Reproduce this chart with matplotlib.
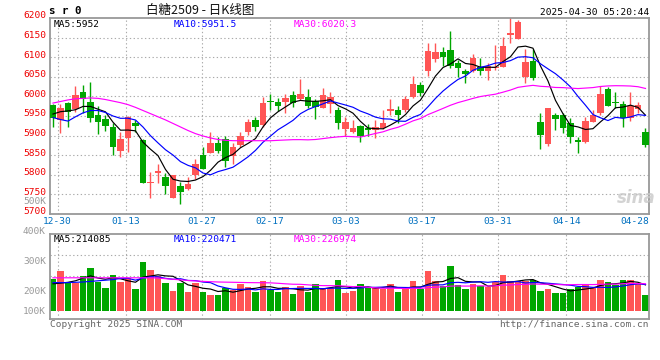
import matplotlib
matplotlib.use('Agg')
import matplotlib.pyplot as plt
import matplotlib.transforms as mtrans
import numpy as np

# ---------------- data ----------------
dates = ['12-27', '12-30', '12-31', '01-02', '01-03', '01-06', '01-07', '01-08', '01-09', '01-10',
         '01-13', '01-14', '01-15', '01-16', '01-17', '01-20', '01-21', '01-22', '01-23', '01-24',
         '01-27', '02-05', '02-06', '02-07', '02-10', '02-11', '02-12', '02-13', '02-14', '02-17',
         '02-18', '02-19', '02-20', '02-21', '02-24', '02-25', '02-26', '02-27', '02-28', '03-03',
         '03-04', '03-05', '03-06', '03-07', '03-10', '03-11', '03-12', '03-13', '03-14', '03-17',
         '03-18', '03-19', '03-20', '03-21', '03-24', '03-25', '03-26', '03-27', '03-28', '03-31',
         '04-01', '04-02', '04-03', '04-07', '04-08', '04-09', '04-10', '04-11', '04-14', '04-15',
         '04-16', '04-17', '04-18', '04-21', '04-22', '04-23', '04-24', '04-25', '04-28', '04-29']

opens = [5978, 5939, 5984, 5969, 6011, 5986, 5953, 5942, 5921, 5861,
         5895, 5931, 5889, 5780, 5805, 5794, 5742, 5771, 5764, 5799,
         5851, 5856, 5882, 5891, 5848, 5876, 5909, 5940, 5927, 5989,
         5986, 5986, 6004, 5993, 5999, 5988, 5971, 5980, 5965, 5917,
         5910, 5924, 5919, 5914, 5920, 5962, 5965, 5965, 5999, 6030,
         6065, 6095, 6114, 6118, 6086, 6065, 6066, 6076, 6066, 6072,
         6076, 6157, 6146, 6049, 6090, 5935, 5879, 5953, 5953, 5931,
         5890, 5884, 5935, 5957, 6019, 5986, 5981, 5944, 5968, 5910]
highs = [5980, 5980, 5985, 6027, 6029, 6037, 5976, 5953, 5931, 5910,
         5950, 5940, 5891, 5808, 5828, 5804, 5800, 5782, 5794, 5840,
         5870, 5910, 5896, 5899, 5882, 5910, 5942, 5948, 5999, 6006,
         5997, 6006, 6015, 6044, 6019, 5993, 6021, 6010, 5974, 5947,
         5940, 5927, 5930, 5940, 5965, 5993, 5976, 6002, 6053, 6036,
         6135, 6137, 6127, 6167, 6093, 6069, 6108, 6099, 6084, 6131,
         6152, 6215, 6195, 6120, 6120, 5957, 5970, 5957, 5958, 5944,
         5897, 5948, 5965, 6027, 6023, 6012, 5987, 6012, 5985, 5920]
lows = [5923, 5907, 5923, 5961, 5958, 5935, 5904, 5913, 5851, 5846,
        5859, 5910, 5780, 5742, 5780, 5751, 5742, 5725, 5760, 5789,
        5815, 5855, 5856, 5821, 5828, 5870, 5901, 5912, 5923, 5965,
        5963, 5958, 5974, 5991, 5971, 5942, 5971, 5958, 5918, 5899,
        5906, 5884, 5899, 5895, 5918, 5953, 5933, 5960, 5995, 6000,
        6052, 6089, 6078, 6072, 6050, 6033, 6062, 6055, 6042, 6068,
        6076, 6135, 6146, 6033, 6042, 5866, 5874, 5914, 5907, 5880,
        5856, 5880, 5935, 5952, 5976, 5970, 5921, 5938, 5958, 5872]
closes = [5946, 5970, 5959, 6004, 5993, 5946, 5935, 5925, 5872, 5891,
          5948, 5925, 5780, 5782, 5810, 5771, 5800, 5757, 5777, 5828,
          5815, 5880, 5861, 5835, 5870, 5899, 5935, 5923, 5984, 5986,
          5976, 5997, 5984, 6006, 5976, 5974, 6004, 5998, 5931, 5934,
          5919, 5899, 5914, 5922, 5933, 5967, 5953, 5993, 6032, 6008,
          6115, 6112, 6101, 6078, 6073, 6056, 6099, 6066, 6078, 6072,
          6129, 6161, 6190, 6089, 6046, 5902, 5970, 5942, 5919, 5896,
          5884, 5937, 5952, 6006, 5976, 5984, 5946, 5976, 5978, 5876]
volumes = [239000, 266700, 230000, 224700, 249000, 276700, 230000, 210000, 252000, 230000,
           243000, 205700, 296700, 269000, 250000, 225700, 199000, 226700, 195700, 224700,
           194700, 185700, 185700, 208000, 201000, 221000, 213300, 196700, 232300, 202300,
           194700, 213300, 189000, 215700, 196700, 222300, 205700, 210000, 236000, 193300,
           199000, 222300, 213300, 213300, 205700, 222300, 195700, 205700, 232300, 205700,
           266700, 232300, 215700, 283300, 219000, 205700, 222300, 215700, 213300, 230000,
           252300, 232300, 232300, 232300, 236000, 199000, 205700, 193300, 193300, 205700,
           213300, 222300, 210000, 235700, 229000, 219000, 235700, 235700, 221000, 185700]

# moving-average values before enough history exists
ma5_head = [5955, 5961, 5963, 5966]
ma10_head = [5946, 5941, 5937, 5948, 5958, 5964, 5964, 5959, 5950]
ma30_head = [5983, 5987, 5991, 5994, 5995, 5996, 5995, 5992, 5988, 5984,
             5979, 5972, 5964, 5956, 5948, 5940, 5931, 5922, 5913, 5905,
             5899, 5894, 5890, 5888, 5887, 5887, 5887, 5887, 5887]
vma5_head = [223000, 225000, 228000, 233000]
vma10_head = [227000, 227000, 227000, 228000, 229000, 231000, 233000, 235000, 237000]
vma30_head = [243000] * 14 + [242000, 240000, 238000, 236000, 234000, 232500, 231000,
                              230000, 229000, 228500, 228000, 227500, 227000, 226700, 226500]

axis_dates = ['12-30', '01-13', '01-27', '02-17', '03-03', '03-17', '03-31', '04-14', '04-28']
price_ticks = [6200, 6150, 6100, 6050, 6000, 5950, 5900, 5850, 5800, 5750, 5700]
vol_labels = ['500K', '400K', '300K', '200K', '100K']
vol_label_vals = [500000, 400000, 300000, 200000, 133000]

title = '白糖2509 - 日K线图'
symbol = 's r 0'
stamp = '2025-04-30 05:20:44'
ma_text = ['MA5:5952', 'MA10:5951.5', 'MA30:6020.3']
vma_text = ['MA5:214085', 'MA10:220471', 'MA30:226974']

# ---------------- style ----------------
RED = '#FF5555'
GREEN = '#00A600'
MA_COLORS = ['#000000', '#0000FF', '#FF00FF']
GRID = '#AAAAAA'
BORDER = '#999999'
MONO = 'DejaVu Sans Mono'

W, H = 660, 360
fig = plt.figure(figsize=(W / 100, H / 100), dpi=100)
fig.patch.set_facecolor('white')


def pix_axes(x0, y0, x1, y1):
    return fig.add_axes([x0 / W, 1 - y1 / H, (x1 - x0) / W, (y1 - y0) / H])


def moving_avg(vals, n, head):
    vals = np.asarray(vals, dtype=float)
    tail = [vals[i - n + 1:i + 1].mean() for i in range(n - 1, len(vals))]
    return np.array(list(head) + tail)


ax = pix_axes(50, 18, 649, 214)
axv = pix_axes(50, 234, 649, 318.5)

n = len(closes)
x = np.arange(n)
o = np.array(opens, float)
c = np.array(closes, float)
hi = np.array(highs, float)
lo = np.array(lows, float)
up = c >= o
cols = np.where(up, RED, GREEN)

xlim = (-0.4, 79.47)
for a in (ax, axv):
    a.set_xlim(*xlim)
    a.set_xticks([])
    a.set_yticks([])
    for s in a.spines.values():
        s.set_color(BORDER)
        s.set_linewidth(1.3)

ax.set_ylim(5700, 6200)
vtop, vbot = 389000, 107300
axv.set_ylim(vbot, vtop)

grid_kw = dict(color=GRID, lw=0.8, ls=(0, (1.2, 2.2)), zorder=0)
# vertical grid at date labels (Sina spaces them over 79 intervals)
idxs = [dates.index(d) for d in axis_dates]
gx = [80 * i / 79 - 0.4 for i in idxs]
for g in gx[:-1]:
    ax.axvline(g, **grid_kw)
    axv.axvline(g, **grid_kw)
for p in price_ticks[1:-1]:
    ax.axhline(p, **grid_kw)
for f in (0.75, 0.5):
    axv.plot([0, 1], [f, f], transform=axv.transAxes, **grid_kw)

# candles
ax.vlines(x, lo, hi, colors=cols, lw=1.0, zorder=2)
body_h = np.maximum(np.abs(c - o), 2.6)
ax.bar(x, body_h, bottom=np.minimum(o, c), width=0.82, color=cols, lw=0, zorder=3)

# moving averages
for arr, head, nn, col in [(c, ma5_head, 5, MA_COLORS[0]), (c, ma10_head, 10, MA_COLORS[1]),
                           (c, ma30_head, 30, MA_COLORS[2])]:
    ax.plot(x, moving_avg(arr, nn, head), color=col, lw=0.85, zorder=4)

# volume
vol = np.array(volumes, float)
vbase = 132300
axv.bar(x, vol - vbase, bottom=vbase, width=0.82, color=cols, lw=0, zorder=2)
for head, nn, col in [(vma5_head, 5, MA_COLORS[0]), (vma10_head, 10, MA_COLORS[1]),
                      (vma30_head, 30, MA_COLORS[2])]:
    axv.plot(x, moving_avg(vol, nn, head), color=col, lw=0.85, zorder=4)

# ---------------- text ----------------
fs = 6.8
ytr = mtrans.offset_copy(ax.get_yaxis_transform(), fig=fig, x=-4, y=2, units='dots')
for p in price_ticks:
    ax.text(0, p, str(p), transform=ytr, ha='right', va='center', color='#EE0000',
            fontsize=fs, family=MONO, clip_on=False)
vtr = mtrans.offset_copy(axv.get_yaxis_transform(), fig=fig, x=-4, y=-0.5, units='dots')
for lab, v in zip(vol_labels, vol_label_vals):
    axv.text(0, v, lab, transform=vtr, ha='right', va='center', color='#999999',
             fontsize=fs, family=MONO, clip_on=False)

xtr = mtrans.offset_copy(ax.get_xaxis_transform(), fig=fig, x=0, y=-7.5, units='dots')
for lab, g in zip(axis_dates, gx):
    if g > xlim[1] - 1:
        ax.text(1.0, 0, lab, transform=mtrans.offset_copy(ax.transAxes, fig=fig, x=0, y=-7.5, units='dots'),
                ha='right', va='center', color='#0070C0', fontsize=fs, family=MONO, clip_on=False)
    else:
        ax.text(g, 0, lab, transform=xtr, ha='center', va='center', color='#0070C0',
                fontsize=fs, family=MONO, clip_on=False)


def ftext(px, py, s, **kw):
    fig.text(px / W, 1 - py / H, s, **kw)


for t, px, col in zip(ma_text, [54, 174, 294], MA_COLORS):
    ftext(px, 24.5, t, color=col, fontsize=fs, family=MONO, ha='left', va='center')
for t, px, col in zip(vma_text, [54, 174, 294], MA_COLORS):
    ftext(px, 239.5, t, color=col, fontsize=fs, family=MONO, ha='left', va='center')

ftext(49, 11, symbol, fontsize=7.8, family=MONO, weight='bold', ha='left', va='center')
ftext(200, 10, title, fontsize=9, family=['Noto Sans CJK SC', 'DejaVu Sans'],
      ha='center', va='center', color='#111111')
ftext(649, 12.5, stamp, fontsize=fs, family=MONO, ha='right', va='center')
ftext(50, 324.5, 'Copyright 2025 SINA.COM', fontsize=fs, family=MONO, ha='left', va='center',
      color='#666666')
ftext(649, 324.5, 'http://finance.sina.com.cn', fontsize=fs, family=MONO, ha='right', va='center',
      color='#666666')
ftext(636, 198, 'sina', fontsize=12, style='italic', weight='bold', family='DejaVu Sans',
      ha='center', va='center', color='#C8C8C8', alpha=0.8)

fig.savefig('out.png', dpi=100, facecolor='white')
